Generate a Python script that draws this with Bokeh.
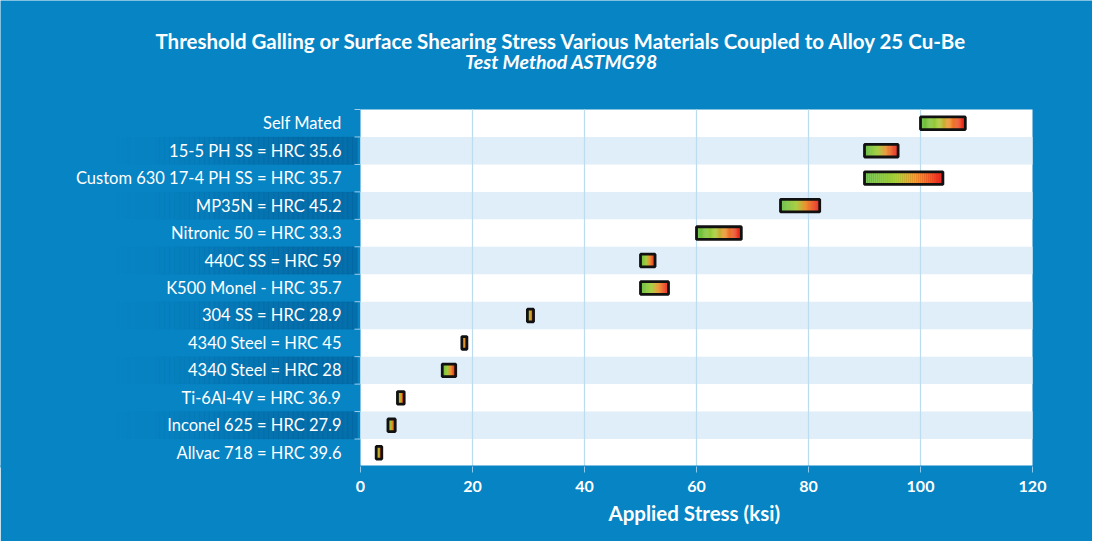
import numpy as np
from bokeh.plotting import figure
from bokeh.models import Range1d, FixedTicker, Title
from bokeh.core.properties import value
from bokeh.embed import file_html
from bokeh.resources import INLINE

# ---------------- data ----------------
materials = [
    "Self Mated",
    "15-5 PH SS = HRC 35.6",
    "Custom 630 17-4 PH SS = HRC 35.7",
    "MP35N = HRC 45.2",
    "Nitronic 50 = HRC 33.3",
    "440C SS = HRC 59",
    "K500 Monel - HRC 35.7",
    "304 SS = HRC 28.9",
    "4340 Steel = HRC 45",
    "4340 Steel = HRC 28",
    "Ti-6Al-4V = HRC 36.9",
    "Inconel 625 = HRC 27.9",
    "Allvac 718 = HRC 39.6",
]
stress_low = [100, 90, 90, 75, 60, 50, 50, 29.8, 18.1, 14.6, 6.6, 4.9, 2.8]
stress_high = [108, 96, 104, 82, 68, 52.6, 55, 30.9, 19.0, 17.0, 7.8, 6.2, 3.8]
x_ticks = [0, 20, 40, 60, 80, 100, 120]
title_text = "Threshold Galling or Surface Shearing Stress Various Materials Coupled to Alloy 25 Cu-Be"
subtitle_text = "Test Method ASTMG98"
x_label = "Applied Stress (ksi)"

# ---------------- layout / style ----------------
W, H = 1092, 541
ZERO_PX = 360          # figure px of value 0
PLOT_R = 1032          # figure px of value 120
TOP, BOTTOM = 109, 466 # rows area, figure px
X_MAX = x_ticks[-1]
PPU = (PLOT_R - ZERO_PX) / X_MAX
X_START = -ZERO_PX / PPU
X_END = X_MAX + (W - PLOT_R) / PPU
N = len(materials)
ROW_PX = (BOTTOM - TOP) / N
Y_END = N + TOP / ROW_PX

BLUE = "#0784c4"
LIGHT_ROW = "#dfeef8"
GRID = "#bcdcf0"
FONT = "Lato"


def px(dx):
    return dx / PPU


def py(dy):
    return dy / ROW_PX


p = figure(width=W, height=H, x_range=Range1d(X_START, X_END), y_range=Range1d(0, Y_END),
           min_border_left=0, min_border_right=0, min_border_top=0,
           min_border_bottom=H - BOTTOM, y_axis_location=None,
           toolbar_location=None, output_backend="svg",
           background_fill_color=BLUE, border_fill_color=BLUE, outline_line_color=None)
p.xgrid.visible = False
p.ygrid.visible = False

ycen = [N - 1 - i + 0.5 for i in range(N)]
odd_rows = [i for i in range(N) if (N - 1 - i) % 2 == 1]

# plot area background
p.quad(left=[0], right=[X_MAX], bottom=[0], top=[N], fill_color="white", line_color=None)
p.quad(left=[0] * len(odd_rows), right=[X_MAX] * len(odd_rows),
       bottom=[ycen[i] - 0.5 for i in odd_rows], top=[ycen[i] + 0.5 for i in odd_rows],
       fill_color=LIGHT_ROW, line_color=None)

# vertical grid lines
gt = x_ticks[1:-1]
p.segment(x0=gt, x1=gt, y0=[0] * len(gt), y1=[N] * len(gt), line_color=GRID, line_width=1.2)

# dark gradient bands behind alternate labels
band_left = X_START + px(110)
band_right = -px(3)
nsl = 50
edges = np.linspace(band_left, band_right, nsl + 1)
bl, br, bb, bt, ba = [], [], [], [], []
for i in odd_rows:
    for k in range(nsl):
        t = (k + 0.5) / nsl
        bl.append(edges[k]); br.append(edges[k + 1])
        bb.append(ycen[i] - 0.5); bt.append(ycen[i] + 0.5)
        ba.append(0.30 * min(1.0, t / 0.75) ** 1.5)
p.quad(left=bl, right=br, bottom=bb, top=bt, fill_color="#003e70", fill_alpha=ba,
       line_color="#003e70", line_alpha=ba, line_width=0.2)

# row boundary ticks on the left
yb = list(range(N + 1))
p.segment(x0=[-px(6)] * len(yb), x1=[0] * len(yb), y0=yb, y1=yb, line_color="#9fd0ee", line_width=1)

# category labels
p.text(x=[-px(19)] * N, y=ycen, text=materials, text_align="right", text_baseline="middle",
       text_color="white", text_font=value(FONT), text_font_size="16.5px")

# gradient bars
stops = [(0.0, (95, 190, 60)), (0.4, (165, 205, 55)), (0.65, (240, 145, 45)), (1.0, (235, 30, 30))]


def grad(t):
    for (t0, c0), (t1, c1) in zip(stops[:-1], stops[1:]):
        if t <= t1:
            f = (t - t0) / (t1 - t0)
            return "#%02x%02x%02x" % tuple(int(round(a + (b - a) * f)) for a, b in zip(c0, c1))
    return "#%02x%02x%02x" % stops[-1][1]


HALF = 0.23
gl, gr, gb, gtp, gc = [], [], [], [], []
ns = 40
for i in range(N):
    e = np.linspace(stress_low[i], stress_high[i], ns + 1)
    for k in range(ns):
        gl.append(e[k]); gr.append(e[k + 1])
        gb.append(ycen[i] - HALF); gtp.append(ycen[i] + HALF)
        gc.append(grad((k + 0.5) / ns))
p.quad(left=gl, right=gr, bottom=gb, top=gtp, fill_color=gc, line_color=gc, line_width=0.3)
p.quad(left=stress_low, right=stress_high, bottom=[y - HALF for y in ycen], top=[y + HALF for y in ycen],
       fill_color=None, line_color="#111111", line_width=2.8)

# titles (inside the extended frame)
tx = X_START + px(561)
p.text(x=[tx], y=[N + py(TOP - 40)], text=[title_text], text_align="center",
       text_baseline="alphabetic", text_color="white", text_font=value(FONT),
       text_font_style="bold", text_font_size="20.5px")
p.text(x=[tx], y=[N + py(TOP - 61)], text=[subtitle_text], text_align="center",
       text_baseline="alphabetic", text_color="white", text_font=value(FONT),
       text_font_style="bold italic", text_font_size="19.5px")

# x axis
ax = p.xaxis[0]
ax.ticker = FixedTicker(ticks=x_ticks)
ax.axis_line_color = BLUE
ax.axis_line_width = 2
ax.major_tick_line_color = "#8fc8ea"
ax.major_tick_out = 6
ax.major_tick_in = 0
ax.minor_tick_line_color = None
ax.major_label_text_color = "white"
ax.major_label_text_font = FONT
ax.major_label_text_font_style = "bold"
ax.major_label_text_font_size = "16px"
ax.major_label_standoff = 8

# axis title, centred under the 0..120 span
p.add_layout(Title(text=x_label, align="left", offset=608, text_color="white",
                   text_font=FONT, text_font_style="bold", text_font_size="20.5px",
                   standoff=8), "below")

open("out.html", "w").write(file_html(p, INLINE))
